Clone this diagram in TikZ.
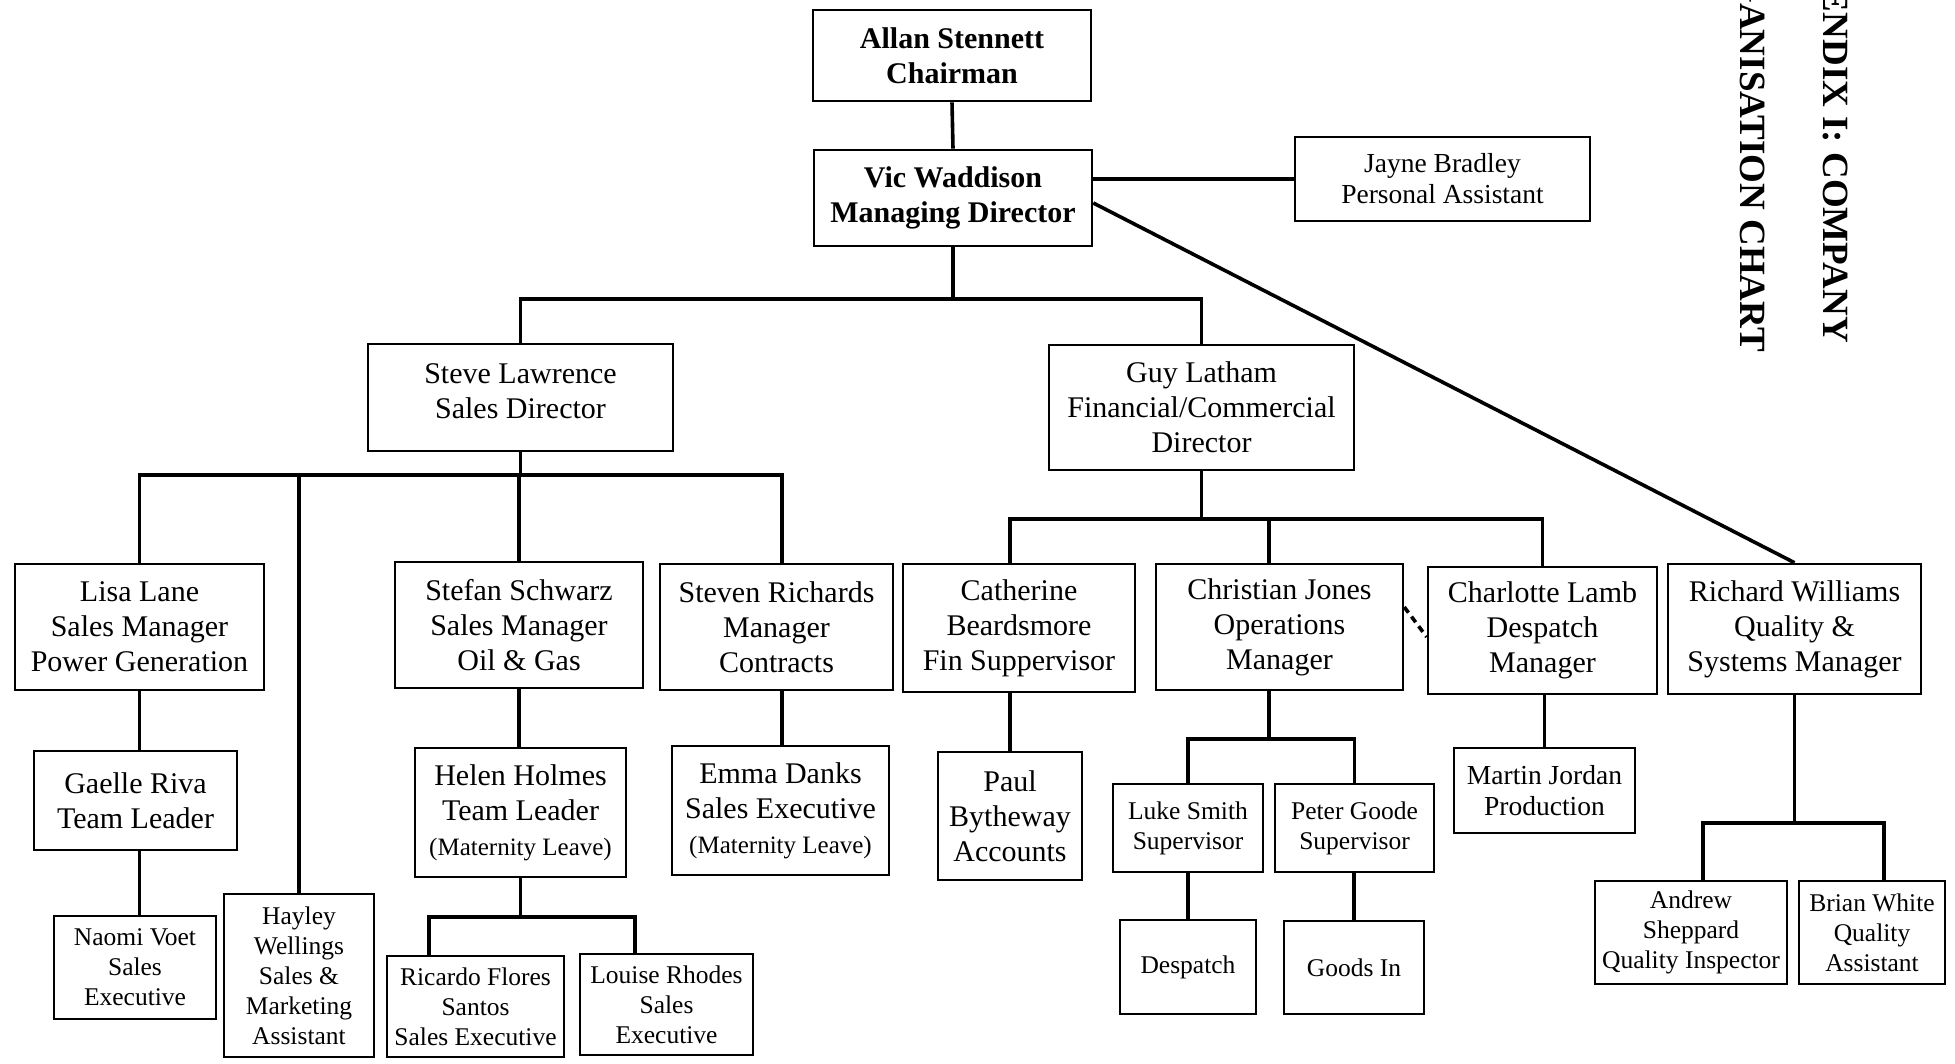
\documentclass[tikz,border=0pt]{standalone}
\usepackage{fontspec}
\setmainfont{Liberation Serif}
\begin{document}
\begin{tikzpicture}[x=1pt,y=-1pt,
  box/.style={draw, line width=2.6pt, align=center, inner sep=0pt},
  conn/.style={line width=3.6pt},
  tbig/.style={font=\fontsize{30}{35}\selectfont},
  tbold/.style={font=\bfseries\fontsize{30}{35.5}\selectfont},
  tmid/.style={font=\fontsize{27.5}{31}\selectfont},
  tsmall/.style={font=\fontsize{25.5}{30}\selectfont},
  ttitle/.style={font=\bfseries\fontsize{37}{40}\selectfont, rotate=-90, anchor=base east, inner sep=0pt}]
\useasboundingbox (0,0) rectangle (1955,1064);
\clip (0,0) rectangle (1955,1064);
\fill[white] (0,0) rectangle (1955,1064);

% title (cut off at the top edge, as in the reference)
\node[ttitle] (title1) at (1823,343) {APPENDIX I: COMPANY};
\node[ttitle] (title2) at (1740,352) {ORGANISATION CHART};

% level 0-1
\node[box,tbold,minimum width=278pt,minimum height=91pt] (allan) at (952,55.5) {Allan Stennett\\Chairman};
\node[box,tbold,minimum width=278pt,minimum height=96pt] (vic) at (953,198) {Vic Waddison\\Managing Director};
\node[box,tmid,minimum width=295pt,minimum height=84pt] (jayne) at (1442.5,179) {Jayne Bradley\\Personal Assistant};

% directors
\node[box,tbig,minimum width=305pt,minimum height=107pt,text depth=12pt] (steve) at (520.5,397.5) {Steve Lawrence\\Sales Director};
\node[box,tbig,minimum width=305pt,minimum height=125pt] (guy) at (1201.5,407.5) {Guy Latham\\Financial/Commercial\\Director};

% sales
\node[box,tbig,minimum width=249pt,minimum height=126pt] (lisa) at (139.5,627) {Lisa Lane\\Sales Manager\\Power Generation};
\node[box,tsmall,minimum width=150pt,minimum height=163pt] (hayley) at (299,975.5) {Hayley\\Wellings\\Sales \&\\Marketing\\Assistant};
\node[box,tbig,minimum width=248pt,minimum height=126pt] (stefan) at (519,625) {Stefan Schwarz\\Sales Manager\\Oil \& Gas};
\node[box,tbig,minimum width=233pt,minimum height=126pt] (steven) at (776.5,627) {Steven Richards\\Manager\\Contracts};
\node[box,tbig,minimum width=203pt,minimum height=99pt] (gaelle) at (135.5,800.5) {Gaelle Riva\\Team Leader};
\node[box,tsmall,minimum width=162pt,minimum height=103pt] (naomi) at (135,967.5) {Naomi Voet\\Sales\\Executive};
\node[box,tbig,minimum width=211pt,minimum height=129pt] (helen) at (520.5,812.5) {Helen Holmes\\Team Leader\\{\fontsize{25}{30}\selectfont (Maternity Leave)}};
\node[box,tsmall,minimum width=177pt,minimum height=101pt] (ricardo) at (475.5,1006.5) {Ricardo Flores\\Santos\\Sales Executive};
\node[box,tsmall,minimum width=173pt,minimum height=101pt] (louise) at (666.5,1004.5) {Louise Rhodes\\Sales\\Executive};
\node[box,tbig,minimum width=217pt,minimum height=129pt] (emma) at (780.5,810.5) {Emma Danks\\Sales Executive\\{\fontsize{25}{30}\selectfont (Maternity Leave)}};

% finance / operations
\node[box,tbig,minimum width=232pt,minimum height=128pt] (catherine) at (1019,628) {Catherine\\Beardsmore\\Fin Suppervisor};
\node[box,tbig,minimum width=247pt,minimum height=126pt] (christian) at (1279.5,627) {Christian Jones\\Operations\\Manager};
\node[box,tbig,minimum width=229pt,minimum height=127pt] (charlotte) at (1542.5,630.5) {Charlotte Lamb\\Despatch\\Manager};
\node[box,tbig,minimum width=253pt,minimum height=130pt] (richard) at (1794.5,629) {Richard Williams\\Quality \&\\Systems Manager};
\node[box,tbig,minimum width=144pt,minimum height=128pt] (paul) at (1010,816) {Paul\\Bytheway\\Accounts};
\node[box,tsmall,minimum width=150pt,minimum height=88pt] (luke) at (1188,828) {Luke Smith\\Supervisor};
\node[box,tsmall,minimum width=159pt,minimum height=88pt] (peter) at (1354.5,828) {Peter Goode\\Supervisor};
\node[box,tsmall,minimum width=136pt,minimum height=94pt] (despatch) at (1188,967) {Despatch};
\node[box,tsmall,minimum width=140pt,minimum height=93pt] (goodsin) at (1354,967.5) {Goods In};
\node[box,tmid,minimum width=181pt,minimum height=85pt] (martin) at (1544.5,790.5) {Martin Jordan\\Production};
\node[box,tsmall,minimum width=192pt,minimum height=103pt] (andrew) at (1691,932.5) {Andrew\\Sheppard\\Quality Inspector};
\node[box,tsmall,minimum width=146pt,minimum height=103pt] (brian) at (1872,932.5) {Brian White\\Quality\\Assistant};

% bus coordinates
\coordinate (b1) at (0,299);
\coordinate (b2) at (0,475);
\coordinate (sr) at (782,0);
\coordinate (h1) at (429,917);
\coordinate (h2) at (635,917);
\coordinate (b4) at (0,519);
\coordinate (cj) at (1269,0);
\coordinate (b5) at (0,739);
\coordinate (r1) at (1703,823);
\coordinate (r2) at (1884,823);

% connectors
\draw[conn] (allan.south) -- (vic.north);
\draw[conn] (vic.east |- jayne.west) -- (jayne.west);
\draw[conn] ([yshift=-5pt]vic.east) -- (richard.north);
\draw[conn] (vic.south) -- (vic.south |- b1);
\draw[conn] (steve.north) -- (steve.north |- b1) -- (guy.north |- b1) -- (guy.north);

\draw[conn] (steve.south) -- (steve.south |- b2);
\draw[conn] (lisa.north) -- (lisa.north |- b2) -- (sr |- b2) -- (sr |- steven.north);
\draw[conn] (hayley.north) -- (hayley.north |- b2);
\draw[conn] (stefan.north) -- (stefan.north |- b2);
\draw[conn] (lisa.south) -- (lisa.south |- gaelle.north);
\draw[conn] (lisa.south |- gaelle.south) -- (lisa.south |- naomi.north);
\draw[conn] (stefan.south) -- (stefan.south |- helen.north);
\draw[conn] (helen.south) -- (helen.south |- h1);
\draw[conn] (h1 |- ricardo.north) -- (h1) -- (h2) -- (h2 |- louise.north);
\draw[conn] (sr |- steven.south) -- (sr |- emma.north);

\draw[conn] (guy.south) -- (guy.south |- b4);
\draw[conn] (paul.north |- catherine.north) -- (paul.north |- b4) -- (charlotte.north |- b4) -- (charlotte.north);
\draw[conn] (cj |- christian.north) -- (cj |- b4);
\draw[conn] (paul.north |- catherine.south) -- (paul.north);
\draw[conn] (cj |- christian.south) -- (cj |- b5);
\draw[conn] (luke.north) -- (luke.north |- b5) -- (peter.north |- b5) -- (peter.north);
\draw[conn] (luke.south) -- (despatch.north);
\draw[conn] (peter.south -| goodsin.north) -- (goodsin.north);
\draw[conn] (charlotte.south -| martin.north) -- (martin.north);
\draw[conn] (richard.south) -- (richard.south |- r1);
\draw[conn] (r1 |- andrew.north) -- (r1) -- (r2) -- (r2 |- brian.north);
\draw[conn, dashed, dash pattern=on 7pt off 5pt] (christian.east |- 0,607) -- (charlotte.west |- 0,637);
\end{tikzpicture}
\end{document}
